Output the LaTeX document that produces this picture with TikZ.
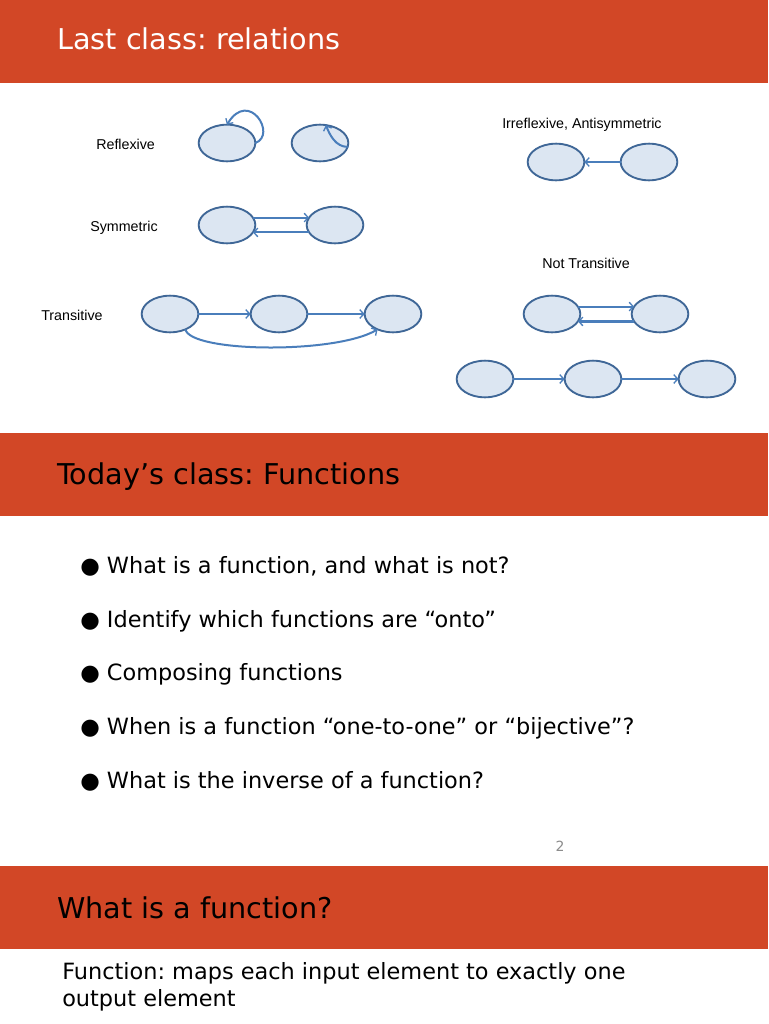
\documentclass[tikz,border=0pt]{standalone}
\usepackage{fontspec}
\setmainfont{DejaVu Sans}
\newfontfamily\arialf{Liberation Sans}
\usetikzlibrary{shapes.geometric,arrows.meta}
\definecolor{band}{HTML}{D24726}
\definecolor{efill}{HTML}{DCE6F2}
\definecolor{ebord}{HTML}{3F6797}
\definecolor{acol}{HTML}{4A7EBB}
\definecolor{pgnum}{HTML}{8C8C8C}
\tikzset{
  vert/.style={ellipse, draw=ebord, fill=efill, line width=1.4pt, minimum width=42.5pt, minimum height=27.5pt, inner sep=0pt, outer sep=0pt},
  arr/.style={draw=acol, line width=1.5pt, -{Straight Barb[length=3pt,width=6.5pt,line width=1pt]}},
  bandbox/.style={fill=band, draw=none},
  ttl/.style={anchor=base west, inner sep=0pt, font=\fontsize{21.5}{26}\selectfont},
  bul/.style={anchor=base west, inner sep=0pt, font=\fontsize{16.8}{20}\selectfont},
  lbl/.style={anchor=base west, inner sep=0pt, font=\arialf\fontsize{10.7}{13}\selectfont},
}
\begin{document}
\frenchspacing
\begin{tikzpicture}[x=0.75pt,y=-0.75pt]
\useasboundingbox (0,0) rectangle (768,1024);
\fill[white] (0,0) rectangle (768,1024);
% bands
\path[bandbox] (0,0) rectangle (768,83);
\path[bandbox] (0,433) rectangle (768,516);
\path[bandbox] (0,866) rectangle (768,949);
\node[ttl, text=white] (t1title) at (57,50) {Last class: relations};
\node[ttl] (t2title) at (57,484) {Today’s class: Functions};
\node[ttl] (t3title) at (57,918) {What is a function?};
% labels
\node[lbl] (lrefl) at (96,149) {Reflexive};
\node[lbl] (lsym) at (90,231) {Symmetric};
\node[lbl] (ltrans) at (41,320) {Transitive};
\node[lbl] (lirr) at (502,128) {Irreflexive, Antisymmetric};
\node[lbl] (lnot) at (542,268) {Not Transitive};
% reflexive
\node[vert] (r1) at (227,143) {};
\node[vert] (r2) at (320,143) {};
\draw[arr] (r1.east) .. controls +(22,-8) and +(22,-36) .. (r1.north);
\draw[arr] (r2.-8) .. controls +(-12,0) and +(4,10) .. (r2.72);
% symmetric
\node[vert] (s1) at (227,225) {};
\node[vert] (s2) at (335,225) {};
\draw[arr] (s1.16) -- (s2.164);
\draw[arr] (s2.-164) -- (s1.-16);
% transitive
\node[vert] (tr1) at (170,314) {};
\node[vert] (tr2) at (279,314) {};
\node[vert] (tr3) at (393,314) {};
\draw[arr] (tr1.east) -- (tr2.west);
\draw[arr] (tr2.east) -- (tr3.west);
\draw[arr] (tr1.-45) .. controls +(5,23) and +(-43,25) .. (tr3.-135);
% irreflexive
\node[vert] (i1) at (556,162) {};
\node[vert] (i2) at (649,162) {};
\draw[arr] (i2.west) -- (i1.east);
% not transitive
\node[vert] (n1) at (552,314) {};
\node[vert] (n2) at (660,314) {};
\draw[arr] (n1.16) -- (n2.164);
\draw[arr, line width=2pt] (n2.-164) -- (n1.-16);
\node[vert] (b1) at (485,379) {};
\node[vert] (b2) at (593,379) {};
\node[vert] (b3) at (707,379) {};
\draw[arr] (b1.east) -- (b2.west);
\draw[arr] (b2.east) -- (b3.west);
% bullets
\node[bul] (p1) at (80,573) {● What is a function, and what is not?};
\node[bul] (p2) at (80,627) {● Identify which functions are “onto”};
\node[bul] (p3) at (80,680) {● Composing functions};
\node[bul] (p4) at (80,734) {● When is a function “one-to-one” or “bijective”?};
\node[bul] (p5) at (80,788) {● What is the inverse of a function?};
\node[text=pgnum, font=\fontsize{10.5}{12}\selectfont, inner sep=0pt] (pg) at (560,846) {2};
% body
\node[bul] (f1) at (62,979) {Function: maps each input element to exactly one};
\node[bul] (f2) at (62,1006) {output element};
\end{tikzpicture}
\end{document}
